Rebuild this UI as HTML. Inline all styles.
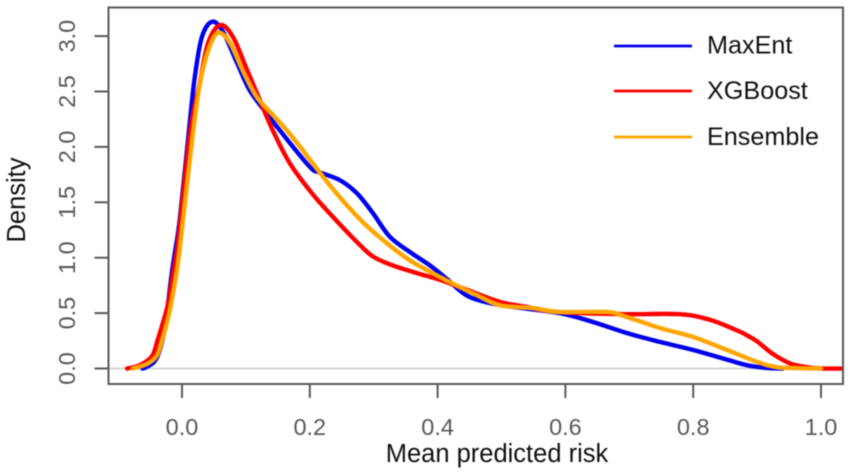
<!DOCTYPE html>
<html lang="en">
<head>
<meta charset="utf-8">
<title>Density of mean predicted risk</title>
<style>
html,body{margin:0;padding:0;background:#fff;}
body{width:851px;height:474px;overflow:hidden;}
svg{display:block;}
text{font-family:"Liberation Sans",Arial,sans-serif;}
.tick-label{font-size:23.5px;fill:#56585c;text-anchor:middle;}
.title{font-size:25.5px;fill:#111;}
.legend-text{font-size:25.2px;fill:#111;}
</style>
</head>
<body>
<svg id="chart" xmlns="http://www.w3.org/2000/svg" width="851" height="474" viewBox="0 0 851 474">
  <defs>
    <clipPath id="plot-clip"><rect x="108.5" y="7.5" width="734.5" height="376.5"/></clipPath>
  </defs>
  <g id="root" style="filter:blur(0.5px)">
    <line id="zero" x1="108" x2="843" stroke="#d4d4d4" stroke-width="2"/>
    <g id="curves" clip-path="url(#plot-clip)"></g>
    <rect x="108.5" y="7.5" width="734.5" height="376.5" fill="none" stroke="#58585a" stroke-width="2"/>
    <g id="xaxis"></g>
    <g id="yaxis"></g>
    <text class="title" x="497" y="462" text-anchor="middle">Mean predicted risk</text>
    <text class="title" transform="translate(25,200) rotate(-90)" text-anchor="middle">Density</text>
    <g>
      <g>
        <line x1="614" x2="692" y1="46" y2="46" stroke="#0000ee" stroke-width="2.8"/>
        <text class="legend-text" x="707" y="53.5">MaxEnt</text>
      </g>
      <g>
        <line x1="614" x2="692" y1="91" y2="91" stroke="#ff0000" stroke-width="2.8"/>
        <text class="legend-text" x="707" y="99">XGBoost</text>
      </g>
      <g>
        <line x1="614" x2="692" y1="137" y2="137" stroke="#ffa500" stroke-width="2.8"/>
        <text class="legend-text" x="707" y="145">Ensemble</text>
      </g>
    </g>
  </g>
</svg>
<script>
const xTickValues = [0.0, 0.2, 0.4, 0.6, 0.8, 1.0];
const xTickLabels = ["0.0", "0.2", "0.4", "0.6", "0.8", "1.0"];
const yTickValues = [0.0, 0.5, 1.0, 1.5, 2.0, 2.5, 3.0];
const yTickLabels = ["0.0", "0.5", "1.0", "1.5", "2.0", "2.5", "3.0"];

const maxentRisk = [-0.062,-0.055,-0.04,-0.028,-0.016,-0.011,-0.003,0.0125,0.02,0.031,0.047,0.064,0.086,0.106,0.133,0.153,0.2,0.216,0.247,0.274,0.299,0.325,0.357,0.388,0.414,0.44,0.462,0.5,0.59,0.643,0.696,0.748,0.8,0.853,0.884,0.915,0.94];
const maxentDensity = [0,0.015,0.09,0.33,0.86,1.05,1.37,2.24,2.63,2.99,3.13,3.04,2.76,2.51,2.30,2.15,1.82,1.77,1.70,1.58,1.40,1.19,1.05,0.93,0.81,0.68,0.62,0.57,0.50,0.42,0.32,0.24,0.167,0.08,0.03,0.005,0];

const xgboostRisk = [-0.086,-0.066,-0.047,-0.038,-0.023,-0.014,-0.006,0.0125,0.028,0.041,0.06,0.08,0.10,0.122,0.142,0.169,0.205,0.236,0.274,0.299,0.33,0.368,0.404,0.446,0.498,0.54,0.571,0.62,0.696,0.779,0.826,0.868,0.884,0.9,0.925,0.952,0.978,1.0,1.04];
const xgboostDensity = [0,0.03,0.11,0.26,0.555,0.86,1.16,2.13,2.58,2.94,3.10,2.99,2.72,2.42,2.15,1.85,1.57,1.37,1.14,1.01,0.93,0.86,0.80,0.71,0.60,0.555,0.52,0.50,0.49,0.49,0.44,0.345,0.30,0.245,0.13,0.045,0.012,0,0];

const ensembleRisk = [-0.077,-0.055,-0.039,-0.03,-0.019,-0.008,-0.002,0.017,0.028,0.041,0.056,0.075,0.095,0.117,0.142,0.164,0.185,0.21,0.242,0.283,0.325,0.361,0.419,0.462,0.498,0.549,0.59,0.665,0.696,0.748,0.8,0.853,0.9,0.931,0.97,1.0];
const ensembleDensity = [0,0.04,0.12,0.28,0.53,0.89,1.16,2.12,2.57,2.87,3.03,2.94,2.69,2.45,2.29,2.15,2.00,1.81,1.58,1.32,1.11,0.96,0.78,0.66,0.57,0.545,0.51,0.51,0.465,0.365,0.285,0.167,0.06,0.012,0.003,0];

const SVGNS = "http://www.w3.org/2000/svg";
function xScale(v){ return 182 + v * 639; }
function yScale(v){ return 368.5 - v * 110.8; }

function makeEl(tag, parent){
  const el = document.createElementNS(SVGNS, tag);
  parent.appendChild(el);
  return el;
}

function smoothPath(xs, ys){
  const p = xs.map((x, i) => [xScale(x), yScale(ys[i])]);
  let d = "M" + p[0][0].toFixed(2) + " " + p[0][1].toFixed(2);
  for (let i = 0; i < p.length - 1; i++){
    const p0 = p[Math.max(i - 1, 0)], p1 = p[i], p2 = p[i + 1], p3 = p[Math.min(i + 2, p.length - 1)];
    const c1x = p1[0] + (p2[0] - p0[0]) / 6, c1y = p1[1] + (p2[1] - p0[1]) / 6;
    const c2x = p2[0] - (p3[0] - p1[0]) / 6, c2y = p2[1] - (p3[1] - p1[1]) / 6;
    d += "C" + c1x.toFixed(2) + " " + c1y.toFixed(2) + " " + c2x.toFixed(2) + " " + c2y.toFixed(2) + " " + p2[0].toFixed(2) + " " + p2[1].toFixed(2);
  }
  return d;
}

const zero = document.getElementById("zero");
zero.setAttribute("y1", yScale(0));
zero.setAttribute("y2", yScale(0));

const curves = document.getElementById("curves");

const maxentLine = makeEl("path", curves);


maxentLine.setAttribute("d", smoothPath(maxentRisk, maxentDensity));
maxentLine.setAttribute("stroke", "#0000ee");

const xgboostLine = makeEl("path", curves);


xgboostLine.setAttribute("d", smoothPath(xgboostRisk, xgboostDensity));
xgboostLine.setAttribute("stroke", "#ff0000");

const ensembleLine = makeEl("path", curves);


ensembleLine.setAttribute("d", smoothPath(ensembleRisk, ensembleDensity));
ensembleLine.setAttribute("stroke", "#ffa500");

[maxentLine, xgboostLine, ensembleLine].forEach(function(l){
  l.setAttribute("fill", "none");
  l.setAttribute("stroke-width", "4.4");
  l.setAttribute("stroke-linejoin", "round");
  l.setAttribute("stroke-linecap", "round");
});

const xaxis = document.getElementById("xaxis");
xTickValues.forEach(function(v, i){
  const t = makeEl("line", xaxis);
  
  
  t.setAttribute("x1", xScale(v));
  t.setAttribute("x2", xScale(v));
  t.setAttribute("y1", 384);
  t.setAttribute("y2", 398);
  t.setAttribute("stroke", "#58585a");
  t.setAttribute("stroke-width", "2");
  const lab = makeEl("text", xaxis);
  
  
  lab.setAttribute("class", "tick-label");
  lab.setAttribute("x", xScale(v));
  lab.setAttribute("y", 435);
  lab.textContent = xTickLabels[i];
});

const yaxis = document.getElementById("yaxis");
yTickValues.forEach(function(v, i){
  const t = makeEl("line", yaxis);
  
  
  t.setAttribute("x1", 94.5);
  t.setAttribute("x2", 108.5);
  t.setAttribute("y1", yScale(v));
  t.setAttribute("y2", yScale(v));
  t.setAttribute("stroke", "#58585a");
  t.setAttribute("stroke-width", "2");
  const lab = makeEl("text", yaxis);
  
  
  lab.setAttribute("class", "tick-label");
  lab.setAttribute("transform", "translate(75," + yScale(v) + ") rotate(-90)");
  lab.textContent = yTickLabels[i];
});
</script>
</body>
</html>
